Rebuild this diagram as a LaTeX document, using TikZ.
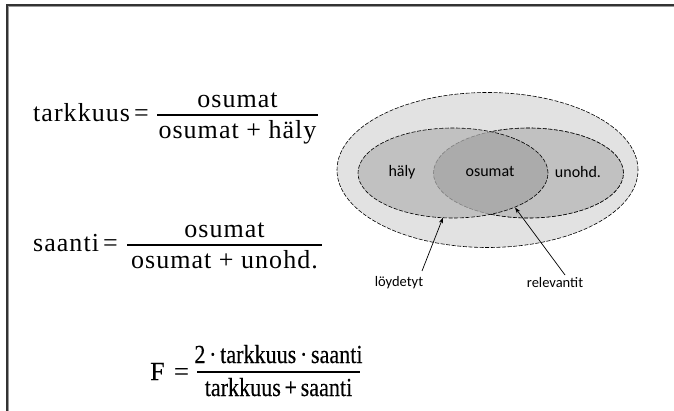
\documentclass[tikz,border=0pt]{standalone}
\usepackage{fontspec}
\usepackage{graphicx}
\setmainfont{Liberation Serif}
\newfontfamily\fml[LetterSpace=4]{Liberation Serif}
\newfontfamily\fmlt[FakeBold=0.3]{Liberation Serif}
\newfontfamily\sansf{Carlito}
\usetikzlibrary{arrows.meta}
\definecolor{outerg}{gray}{0.885}
\definecolor{lobeg}{gray}{0.755}
\definecolor{coreg}{gray}{0.67}
\definecolor{framedark}{gray}{0.2}
\definecolor{framelight}{gray}{0.6}
\definecolor{coreedge}{gray}{0.5}
\newcommand{\narrowtext}[1]{\scalebox{0.85}[1]{#1}}
\begin{document}
\begin{tikzpicture}[x=1pt,y=-1pt,
  fbig/.style={inner sep=0pt, font=\fml\fontsize{26}{30}\selectfont},
  fsm/.style={inner sep=0pt, font=\fmlt\fontsize{26}{30}\selectfont},
  vlab/.style={inner sep=0pt, font=\sansf\fontsize{16}{19}\selectfont},
  clab/.style={inner sep=0pt, font=\sansf\fontsize{14.5}{17}\selectfont},
  bar/.style={line width=1.2pt},
  edgeline/.style={line width=0.6pt, dash pattern=on 4pt off 1.6pt},
  ptr/.style={line width=0.7pt, -{Stealth[length=6pt,width=4pt]}},
  lobe/.style={x radius=95pt, y radius=45pt}]
\useasboundingbox (0,0) rectangle (674,411);
% frame
\draw[framelight, line width=1pt] (8.5,411) -- (8.5,6.5) -- (674,6.5);
\draw[framedark, line width=1.3pt] (7,411) -- (7,5) -- (674,5);
% Venn diagram
\coordinate (oc) at (487.5,170);
\coordinate (lc) at (453,173);
\coordinate (rc) at (528.5,173);
\path[fill=outerg, draw=black, edgeline] (oc) ellipse [x radius=150.5pt, y radius=77.5pt];
\fill[lobeg] (lc) ellipse [lobe];
\fill[lobeg] (rc) ellipse [lobe];
\begin{scope}
  \clip (lc) ellipse [lobe];
  \fill[coreg] (rc) ellipse [lobe];
\end{scope}
\draw[edgeline, coreedge] (rc) ellipse [lobe];
\draw[edgeline] (lc) ellipse [lobe];
\begin{scope}
  \clip (490.75,0) rectangle (674,411);
  \draw[edgeline] (rc) ellipse [lobe];
\end{scope}
\node[vlab] (haly) at (402,172) {häly};
\node[vlab] (osu) at (490,172) {osumat};
\node[vlab] (unohd) at (578,172) {unohd.};
% labels and pointers
\node[clab] (loyd) at (399,283) {löydetyt};
\node[clab] (rel) at (555,283) {relevantit};
\coordinate (la) at (422,271);
\coordinate (lfoot) at (443,217.5);
\coordinate (ra) at (565,275);
\coordinate (rfoot) at (515,207.5);
\draw[ptr] (la) -- (lfoot);
\draw[ptr] (ra) -- (rfoot);
% formula 1
\node[fbig, anchor=base west] (tl) at (33,122) {tarkkuus};
\node[fbig, anchor=base west] (teq) at (134,122) {=};
\coordinate (tb1) at (157,115);
\coordinate (tb2) at (318,115);
\draw[bar] (tb1) -- (tb2);
\node[fbig, anchor=base] (tn) at (237.5,108) {osumat};
\node[fbig, anchor=base] (td) at (237.5,139) {osumat + häly};
% formula 2
\node[fbig, anchor=base west] (sl) at (33,252) {saanti};
\node[fbig, anchor=base west] (seq) at (103,252) {=};
\coordinate (sb1) at (127,245);
\coordinate (sb2) at (322,245);
\draw[bar] (sb1) -- (sb2);
\node[fbig, anchor=base] (sn) at (224.5,238) {osumat};
\node[fbig, anchor=base] (sd) at (224.5,269) {osumat + unohd.};
% formula 3
\node[fsm, anchor=base west] (fl) at (150,380) {F};
\node[fsm, anchor=base west] (feq) at (174,380) {=};
\coordinate (fb1) at (197,372);
\coordinate (fb2) at (360,372);
\draw[bar] (fb1) -- (fb2);
\node[fsm, anchor=base] (fn) at (278.5,363) {\narrowtext{2\,·\,tarkkuus\,·\,saanti}};
\node[fsm, anchor=base] (fd) at (278.5,396) {\narrowtext{tarkkuus\,+\,saanti}};
\end{tikzpicture}
\end{document}
